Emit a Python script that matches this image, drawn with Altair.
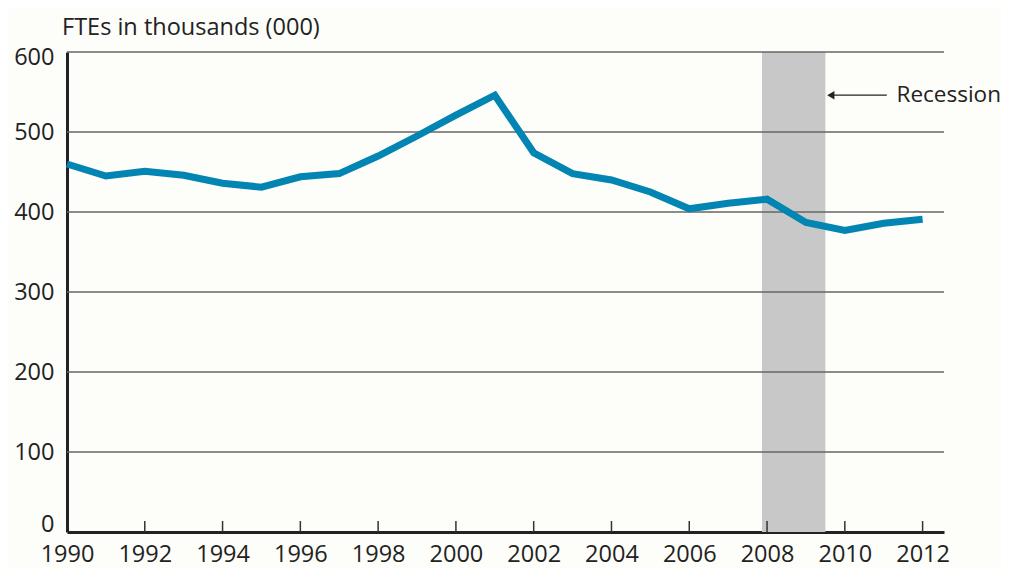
import altair as alt
import pandas as pd

years = list(range(1990, 2013))
ftes = [460, 445, 451, 446, 436, 431, 444, 448, 470, 495, 521, 546, 474, 448, 440, 425, 404, 411, 416, 387, 377, 386, 391]
grid_values = [100, 200, 300, 400, 500, 600]
tick_years = list(range(1992, 2013, 2))
label_years = list(range(1990, 2013, 2))
recession_start, recession_end = 2007.87, 2009.5
arrow_y = 546
arrow_end = 2011.08
label_x = 2011.33

FONT = "Open Sans"
FS = 23.5
W, H = 877, 480
xs = alt.Scale(domain=[1990, 2012.55], nice=False, zero=False)
ys = alt.Scale(domain=[0, 600], nice=False)

df = pd.DataFrame({"year": years, "fte": ftes})
band_df = pd.DataFrame({"x": [recession_start], "x2": [recession_end]})
grid_df = pd.DataFrame({"v": grid_values})
tick_df = pd.DataFrame({"year": tick_years})
arrow_df = pd.DataFrame({"x": [recession_end + 0.22], "x2": [arrow_end], "y": [arrow_y]})
head_df = pd.DataFrame({"x": [recession_end + 0.14], "y": [arrow_y]})
text_df = pd.DataFrame({"x": [label_x], "y": [arrow_y], "t": ["Recession"]})

band = alt.Chart(band_df).mark_rect(color="#c8c8c8").encode(
    x=alt.X("x:Q", scale=xs,
            axis=alt.Axis(values=label_years, format="d", title=None, ticks=False, grid=False,
                          labelFont=FONT, labelFontSize=FS, labelColor="#222", labelFlush=False,
                          labelOverlap=False, labelBound=False,
                          labelPadding=10, domainColor="#222", domainWidth=3)),
    x2="x2:Q",
    y=alt.datum(0, scale=ys),
    y2=alt.datum(600),
)

y_label_offset = {
    "condition": [
        {"test": "datum.value == 0", "value": -8},
        {"test": "datum.value == 600", "value": 5},
    ],
    "value": 0,
}

grid = alt.Chart(grid_df).mark_rule(color="#666", strokeWidth=1.6).encode(
    y=alt.Y("v:Q", scale=ys,
            axis=alt.Axis(values=[0, 100, 200, 300, 400, 500, 600], title=None, ticks=False, grid=False,
                          labelFont=FONT, labelFontSize=FS, labelColor="#222", labelFlush=False,
                          labelOffset=y_label_offset,
                          labelPadding=13, domainColor="#222", domainWidth=3)),
    x=alt.value(0),
    x2=alt.value(W),
)

ticks = alt.Chart(tick_df).mark_rule(color="#333", strokeWidth=1.5).encode(
    x=alt.X("year:Q", scale=xs),
    y=alt.value(H - 11),
    y2=alt.value(H),
)

line = alt.Chart(df).mark_line(color="#0385b3", strokeWidth=7, strokeJoin="miter").encode(
    x=alt.X("year:Q", scale=xs),
    y=alt.Y("fte:Q", scale=ys),
)

arrow = alt.Chart(arrow_df).mark_rule(color="#222", strokeWidth=1.3).encode(
    x=alt.X("x:Q", scale=xs), x2="x2:Q", y=alt.Y("y:Q", scale=ys),
)
head = alt.Chart(head_df).mark_point(shape="triangle-left", filled=True, color="#222", size=70, opacity=1).encode(
    x=alt.X("x:Q", scale=xs), y=alt.Y("y:Q", scale=ys),
)
label = alt.Chart(text_df).mark_text(align="left", baseline="middle", font=FONT, fontSize=22.5, color="#222").encode(
    x=alt.X("x:Q", scale=xs), y=alt.Y("y:Q", scale=ys), text="t:N",
)

chart = alt.layer(band, grid, ticks, line, arrow, head, label).properties(
    width=W, height=H,
    title=alt.TitleParams("FTEs in thousands (000)", font=FONT, fontSize=FS, fontWeight="normal",
                          color="#222", anchor="start", frame="group", dx=-5, offset=6),
    background="#fdfdf9",
    padding={"left": 59, "top": 44, "right": 57, "bottom": 37},
    autosize=alt.AutoSizeParams(type="none"),
).configure_view(stroke=None)

chart.save("out.html", embed_options={"renderer": "svg", "actions": False})
